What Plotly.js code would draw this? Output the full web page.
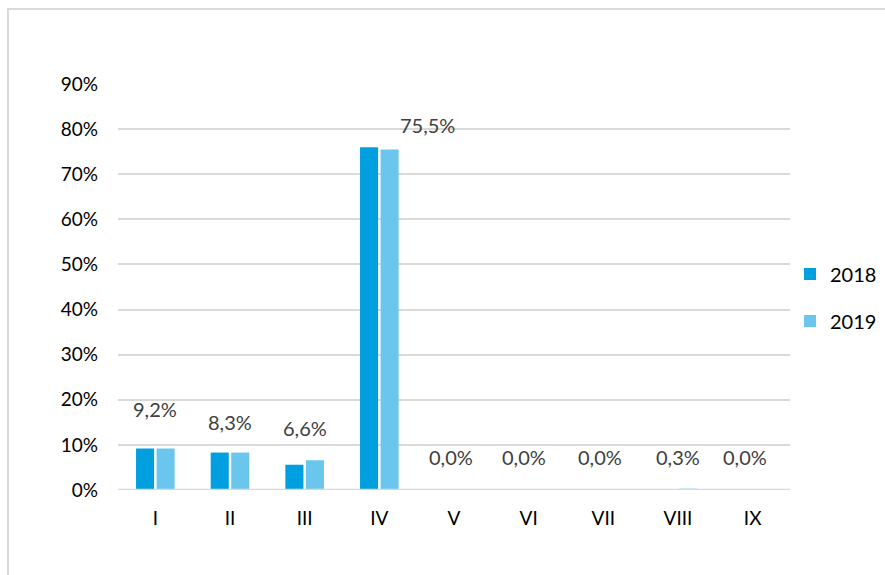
<!DOCTYPE html>
<html>
<head>
<meta charset="utf-8">
<script src="https://cdn.plot.ly/plotly-3.0.1.min.js"></script>
<style>
  html, body { margin: 0; padding: 0; background: #fff; overflow: hidden; }
  #chart { width: 885px; height: 575px; position: relative; }
  #frame { position: absolute; left: 7px; top: 8px; width: 900px; height: 600px;
           border-left: 2px solid #d9d9d9; border-top: 2px solid #d9d9d9; pointer-events: none; }
</style>
</head>
<body>
<div id="chart"></div>
<div id="frame"></div>
<script>
const categories = ['I', 'II', 'III', 'IV', 'V', 'VI', 'VII', 'VIII', 'IX'];
const values2018 = [9.2, 8.3, 5.6, 76.0, 0.0, 0.0, 0.0, 0.2, 0.0];
const values2019 = [9.2, 8.3, 6.6, 75.5, 0.0, 0.0, 0.0, 0.3, 0.0];
const yTicks = [0, 10, 20, 30, 40, 50, 60, 70, 80, 90];

// label placement offsets (pixels), styling only
const labelDx = [0, 0, 0, 48, -3, -5, -3, 0, -8];
const labelDy = [40, 31, 32, 24, 33, 33, 33, 32, 33];

const FONT = 'Lato, "Open Sans", sans-serif';

const traces = [
  { type: 'bar', name: '2018', x: categories, y: values2018, marker: { color: '#009fdf' },
    legendgroup: 'a', hoverinfo: 'x+y' },
  { type: 'bar', name: '2019', x: categories, y: values2019, marker: { color: '#6bc6ee' },
    legendgroup: 'b', hoverinfo: 'x+y' }
];

const fmt = v => v.toFixed(1).replace('.', ',') + '%';

const annotations = categories.map((c, i) => ({
  x: c, y: values2019[i], xref: 'x', yref: 'y',
  text: fmt(values2019[i]), showarrow: false,
  xanchor: 'center', yanchor: 'middle',
  xshift: labelDx[i], yshift: labelDy[i],
  font: { family: FONT, size: 20, color: '#404040' }
}));

const layout = {
  width: 885, height: 575,
  margin: { l: 118, r: 95, t: 84, b: 85, autoexpand: false },
  paper_bgcolor: '#ffffff', plot_bgcolor: '#ffffff',
  barmode: 'group', bargap: 0.45, bargroupgap: 0.12,
  font: { family: FONT, size: 19, color: '#000000' },
  xaxis: {
    type: 'category', showgrid: false, zeroline: false, showline: false,
    ticks: '', tickfont: { family: FONT, size: 19, color: '#000000' },
    ticklabelstandoff: 15, automargin: false
  },
  yaxis: {
    range: [0, 90], tickvals: yTicks, ticktext: yTicks.map(v => v + '%'),
    showgrid: true, gridcolor: '#d9d9d9', gridwidth: 2,
    zeroline: false, showline: false, ticks: '',
    tickfont: { family: FONT, size: 19, color: '#000000' },
    ticklabelstandoff: 19, automargin: false
  },
  shapes: [
    { type: 'line', xref: 'paper', yref: 'y', x0: 0, x1: 1, y0: 0, y1: 0,
      line: { color: '#d9d9d9', width: 2.5 }, layer: 'above' }
  ],
  showlegend: true,
  legend: {
    x: 1.0, xanchor: 'left', y: 0.474, yanchor: 'middle',
    font: { family: FONT, size: 20, color: '#000000' },
    traceorder: 'grouped', tracegroupgap: 18,
    bgcolor: 'rgba(0,0,0,0)'
  },
  annotations: annotations
};

Plotly.newPlot('chart', traces, layout, { displayModeBar: false, staticPlot: true });
</script>
</body>
</html>
